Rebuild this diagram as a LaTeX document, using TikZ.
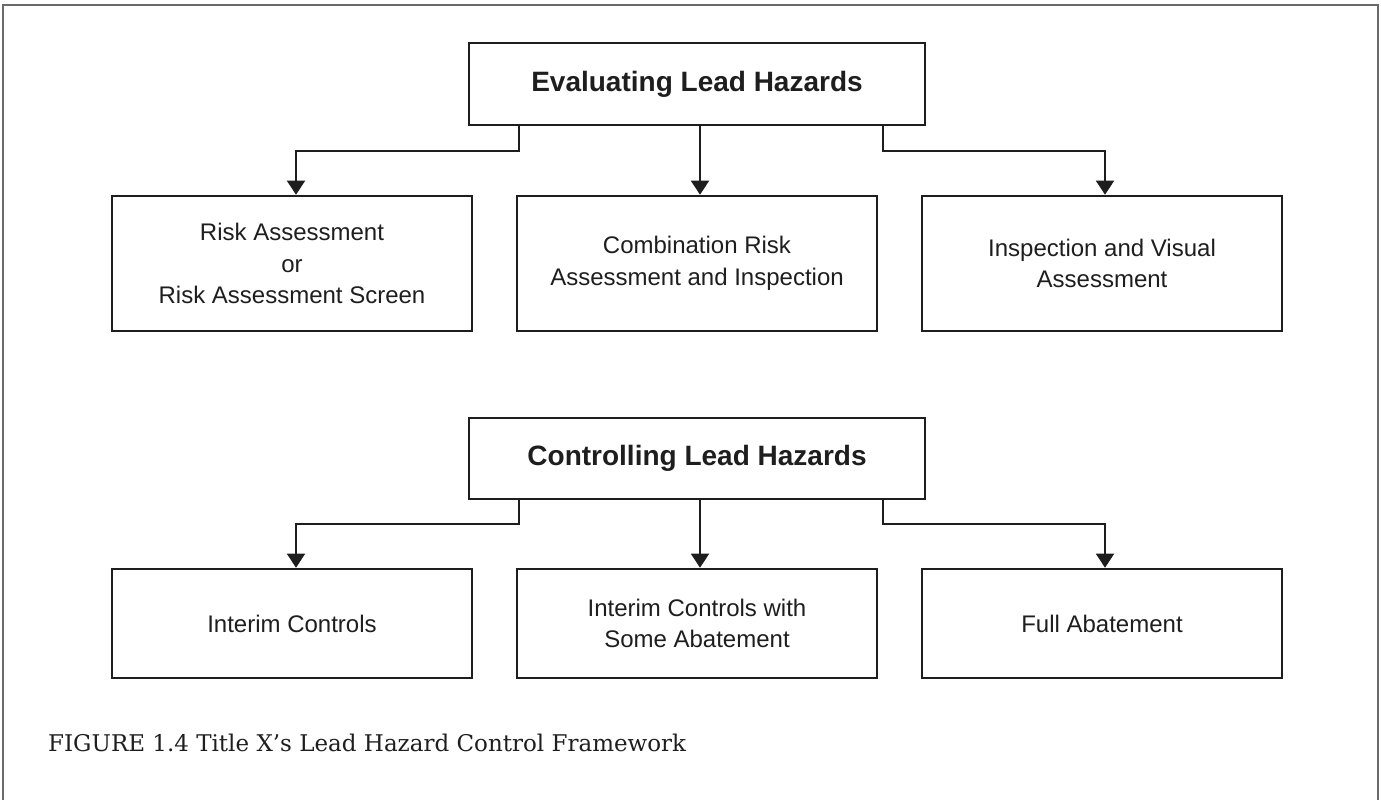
\documentclass[tikz,border=0pt]{standalone}
\usepackage{fontspec}
\setmainfont{Liberation Sans}
\newfontfamily\capfont{DejaVu Serif}
\usetikzlibrary{arrows.meta}
\definecolor{ink}{HTML}{1E1E1E}
\definecolor{framegray}{HTML}{6A6A6A}
\tikzset{
  x=1pt, y=1pt,
  headbox/.style={draw=ink, line width=2.6pt, inner sep=0pt, text=ink,
    minimum width=456pt, minimum height=82pt,
    font=\fontsize{28}{34}\selectfont\bfseries},
  itembox/.style={draw=ink, line width=2.6pt, inner sep=0pt, text=ink,
    minimum width=360pt, align=center,
    font=\fontsize{24}{31.5}\selectfont},
  conn/.style={draw=ink, line width=2pt,
    -{Triangle[width=18pt,length=14pt]}},
  captext/.style={inner sep=0pt, text=ink, font=\capfont\fontsize{23}{28}\selectfont}
}
\begin{document}
\begin{tikzpicture}
\useasboundingbox (0,0) rectangle (1381,-800);
% outer frame
\draw[framegray, line width=1.4pt] (3,-800) -- (3,-5) -- (1378,-5) -- (1378,-800);

% Evaluating
\node[headbox] (e) at (697,-84) {Evaluating Lead Hazards};
\node[itembox, minimum height=135pt] (r1) at (292,-263.5) {Risk Assessment\\or\\Risk Assessment Screen};
\node[itembox, minimum height=135pt] (r2) at (697,-263.5) {Combination Risk\\Assessment and Inspection};
\node[itembox, minimum height=135pt] (r3) at (1102,-263.5) {Inspection and Visual\\Assessment};

\draw[conn] ([xshift=-178pt]e.south) -- ++(0,-25) -| ([xshift=4pt]r1.north);
\draw[conn] ([xshift=3pt]e.south) -- ([xshift=3pt]r2.north);
\draw[conn] ([xshift=186pt]e.south) -- ++(0,-25) -| ([xshift=3pt]r3.north);

% Controlling
\node[headbox, minimum height=81pt] (c) at (697,-458.5) {Controlling Lead Hazards};
\node[itembox, minimum height=109pt] (s1) at (292,-623.5) {Interim Controls};
\node[itembox, minimum height=109pt] (s2) at (697,-623.5) {Interim Controls with\\Some Abatement};
\node[itembox, minimum height=109pt] (s3) at (1102,-623.5) {Full Abatement};

\draw[conn] ([xshift=-178pt]c.south) -- ++(0,-24) -| ([xshift=4pt]s1.north);
\draw[conn] ([xshift=3pt]c.south) -- ([xshift=3pt]s2.north);
\draw[conn] ([xshift=186pt]c.south) -- ++(0,-24) -| ([xshift=3pt]s3.north);

% caption
\node[captext, anchor=base west] (cap) at (48,-751) {FIGURE 1.4 Title X’s Lead Hazard Control Framework};
\end{tikzpicture}
\end{document}
